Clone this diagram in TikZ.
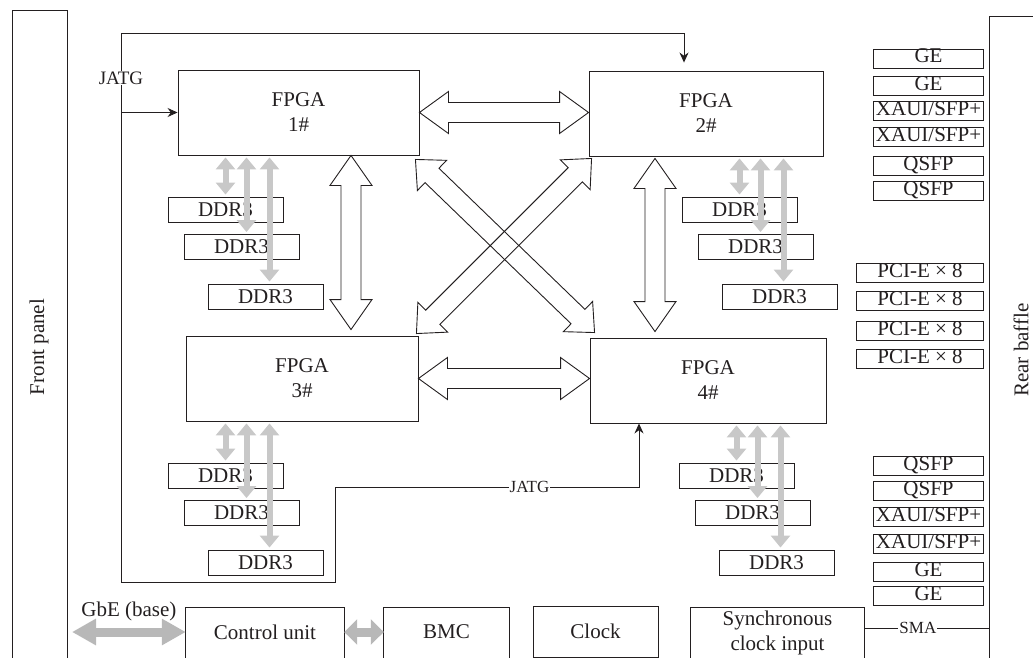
\documentclass[tikz,border=0pt]{standalone}
\usepackage{fontspec}
\setmainfont{Liberation Serif}
\usetikzlibrary{arrows.meta,calc}
\definecolor{Ink}{HTML}{231F20}
\definecolor{MemGrey}{HTML}{C8C8C8}
\definecolor{LinkGrey}{HTML}{B8B8B8}
\newcommand\xaui{XAUI/SFP+}
\newcommand\pcie{PCI-E × 8}
% outlined double arrow between two points, #1 = head length
\newcommand\hollowarrow[3][29pt]{%
  \path (#2) coordinate (ha) (#3) coordinate (hb)
    ($(ha)!#1!(hb)$) coordinate (hc) ($(hb)!#1!(ha)$) coordinate (hd);
  \draw[hollow] (ha) -- ($(hc)!21pt!90:(hb)$) -- ($(hc)!10pt!90:(hb)$)
    -- ($(hd)!10pt!-90:(ha)$) -- ($(hd)!21pt!-90:(ha)$) -- (hb)
    -- ($(hd)!21pt!90:(ha)$) -- ($(hd)!10pt!90:(ha)$)
    -- ($(hc)!10pt!-90:(hb)$) -- ($(hc)!21pt!-90:(hb)$) -- cycle;}
% three DDR3 chips below an FPGA: #1 prefix, #2 left, #3 top, #4 fpga
\newcommand\ddrset[4]{%
  \node[ddr] (#1a) at (#2+57.5,#3+12.5) {DDR3};
  \node[ddr] (#1b) at (#2+73.5,#3+50) {DDR3};
  \node[ddr] (#1c) at (#2+97.5,#3+99.5) {DDR3};
  \coordinate (#1bt) at ([xshift=5pt]#1b.north);
  \coordinate (#1ct) at ([xshift=4pt]#1c.north);
  \draw[memlink] (#1a.north |- #4.south) -- (#1a.north);
  \draw[memlink] (#1bt |- #4.south) -- (#1bt);
  \draw[memlink] (#1ct |- #4.south) -- (#1ct);}

\begin{document}
\begin{tikzpicture}[x=1pt,y=-1pt,
  every node/.style={text=Ink,font=\fontsize{21}{25}\selectfont},
  fpga/.style={draw=Ink,line width=.9pt,minimum height=85pt,inner sep=0pt,align=center},
  ddr/.style={draw=Ink,line width=.9pt,minimum width=115pt,minimum height=25pt,inner sep=0pt},
  port/.style={draw=Ink,line width=.9pt,minimum height=19pt,inner sep=0pt,
    text height=13pt,text depth=4pt,anchor=east},
  unit/.style={inner sep=0pt,align=center},
  tag/.style={fill=white,inner sep=1pt,font=\fontsize{17}{20}\selectfont},
  jtag/.style={draw=Ink,line width=.9pt},
  hollow/.style={draw=Ink,line width=.9pt,line join=miter},
  memlink/.style={draw=MemGrey,line width=6pt,shorten <=2pt,shorten >=2pt,
    {Triangle[width=19pt,length=12pt]}-{Triangle[width=19pt,length=12pt]}},
  baselink/.style={draw=LinkGrey,line width=9pt,
    {Triangle[width=25pt,length=24pt]}-{Triangle[width=25pt,length=24pt]}}]
\useasboundingbox (0,0) rectangle (1033,658);
\clip (0,0) rectangle (1033,658);

% panels
\draw[jtag] (12,670) -- (12,10) -- (67,10) -- (67,670);
\node[rotate=90] (front) at (39,347) {Front panel};
\draw[jtag] (989,670) -- (989,16) -- (1040,16);
\node[rotate=90] (rear) at (1021,350) {Rear baffle};

% FPGAs
\node[fpga,minimum width=241pt] (f1) at (298.5,112.5) {FPGA\\1\#};
\node[fpga,minimum width=234pt] (f2) at (706,113.5) {FPGA\\2\#};
\node[fpga,minimum width=232pt] (f3) at (302,378.5) {FPGA\\3\#};
\node[fpga,minimum width=236pt] (f4) at (708,380.5) {FPGA\\4\#};

\ddrset{m1}{168}{197}{f1}
\ddrset{m2}{682}{197}{f2}
\ddrset{m3}{168}{463}{f3}
\ddrset{m4}{679}{463}{f4}

% links between FPGAs
\hollowarrow{f1.east}{f1.east -| f2.west}
\hollowarrow{f3.east}{f3.east -| f4.west}
\coordinate (v13) at ([xshift=52.5pt]f1.south);
\coordinate (v24) at ([xshift=-51pt,yshift=-2pt]f2.south);
\hollowarrow[30pt]{v13}{$(v13 |- f3.north)+(0,-6)$}
\hollowarrow[30pt]{v24}{$(v24 |- f4.north)+(0,-6)$}
\hollowarrow[23pt]{$(f1.south east)+(-4,4)$}{$(f4.north west)+(5,-5)$}
\hollowarrow[23pt]{$(f2.south west)+(3,2)$}{$(f3.north east)+(-2,-2)$}

% rear ports
\foreach \yc/\lbl [count=\i] in {58.5/GE,86/GE,111/\xaui,137/\xaui,166/QSFP,190.5/QSFP}
  \node[port,minimum width=110pt] (pt\i) at (984,\yc) {\lbl};
\foreach \yc [count=\i] in {272.5,300.5,331,359}
  \node[port,minimum width=127pt] (pci\i) at (984,\yc) {\pcie};
\foreach \yc/\lbl [count=\i] in {466/QSFP,490.5/QSFP,516.5/\xaui,544/\xaui,572/GE,596/GE}
  \node[port,minimum width=110pt] (pb\i) at (984,\yc) {\lbl};

% JATG chain
\coordinate (jtop) at (121,33);
\coordinate (jbot) at (121,582);
\coordinate (jmid) at (335,487);
\coordinate (j2) at ([xshift=-22pt,yshift=8pt]f2.north);
\coordinate (j4) at ([xshift=-69pt]f4.south);
\draw[jtag,-{Stealth[length=10pt,width=9pt]}] (jbot) --
  node[tag,pos=.918,font=\fontsize{19}{22}\selectfont]{JATG} (jtop) -| (j2);
\draw[jtag,-{Stealth[length=10pt,width=9pt]}] (jtop |- f1.west) -- (f1.west);
\draw[jtag,-{Stealth[length=10pt,width=9pt]}] (jbot) -| (jmid)
  -- node[tag,pos=.64]{JATG} (jmid -| j4) -- (j4);

% bottom units
\node[unit,minimum width=158pt,minimum height=48pt] (cu) at (265,632) {Control unit};
\draw[jtag] ([yshift=-20pt]cu.south west) |- (cu.north east) -- ([yshift=-20pt]cu.south east);
\node[unit,minimum width=125pt,minimum height=48pt] (bmc) at (446.5,632) {BMC};
\draw[jtag] ([yshift=-20pt]bmc.south west) |- (bmc.north east) -- ([yshift=-20pt]bmc.south east);
\node[unit,draw=Ink,line width=.9pt,minimum width=125pt,minimum height=51pt] (clk) at (595.5,631.5) {Clock};
\node[unit,minimum width=173pt,minimum height=50pt] (sync) at (777.5,633) {Synchronous\\clock input};
\draw[jtag] ([yshift=-20pt]sync.south west) |- (sync.north east) -- ([yshift=-20pt]sync.south east);
\coordinate (gbe) at (72,632);
\coordinate (rearsma) at (989,628);
\draw[baselink] (gbe) -- node[above=3pt]{GbE (base)} (cu.west);
\draw[baselink,{Triangle[width=25pt,length=13pt]}-{Triangle[width=25pt,length=13pt]}] (cu.east) -- (bmc.west);
\draw[jtag] (sync.east |- rearsma) -- node[tag,pos=.43]{SMA} (rearsma);
\end{tikzpicture}
\end{document}
